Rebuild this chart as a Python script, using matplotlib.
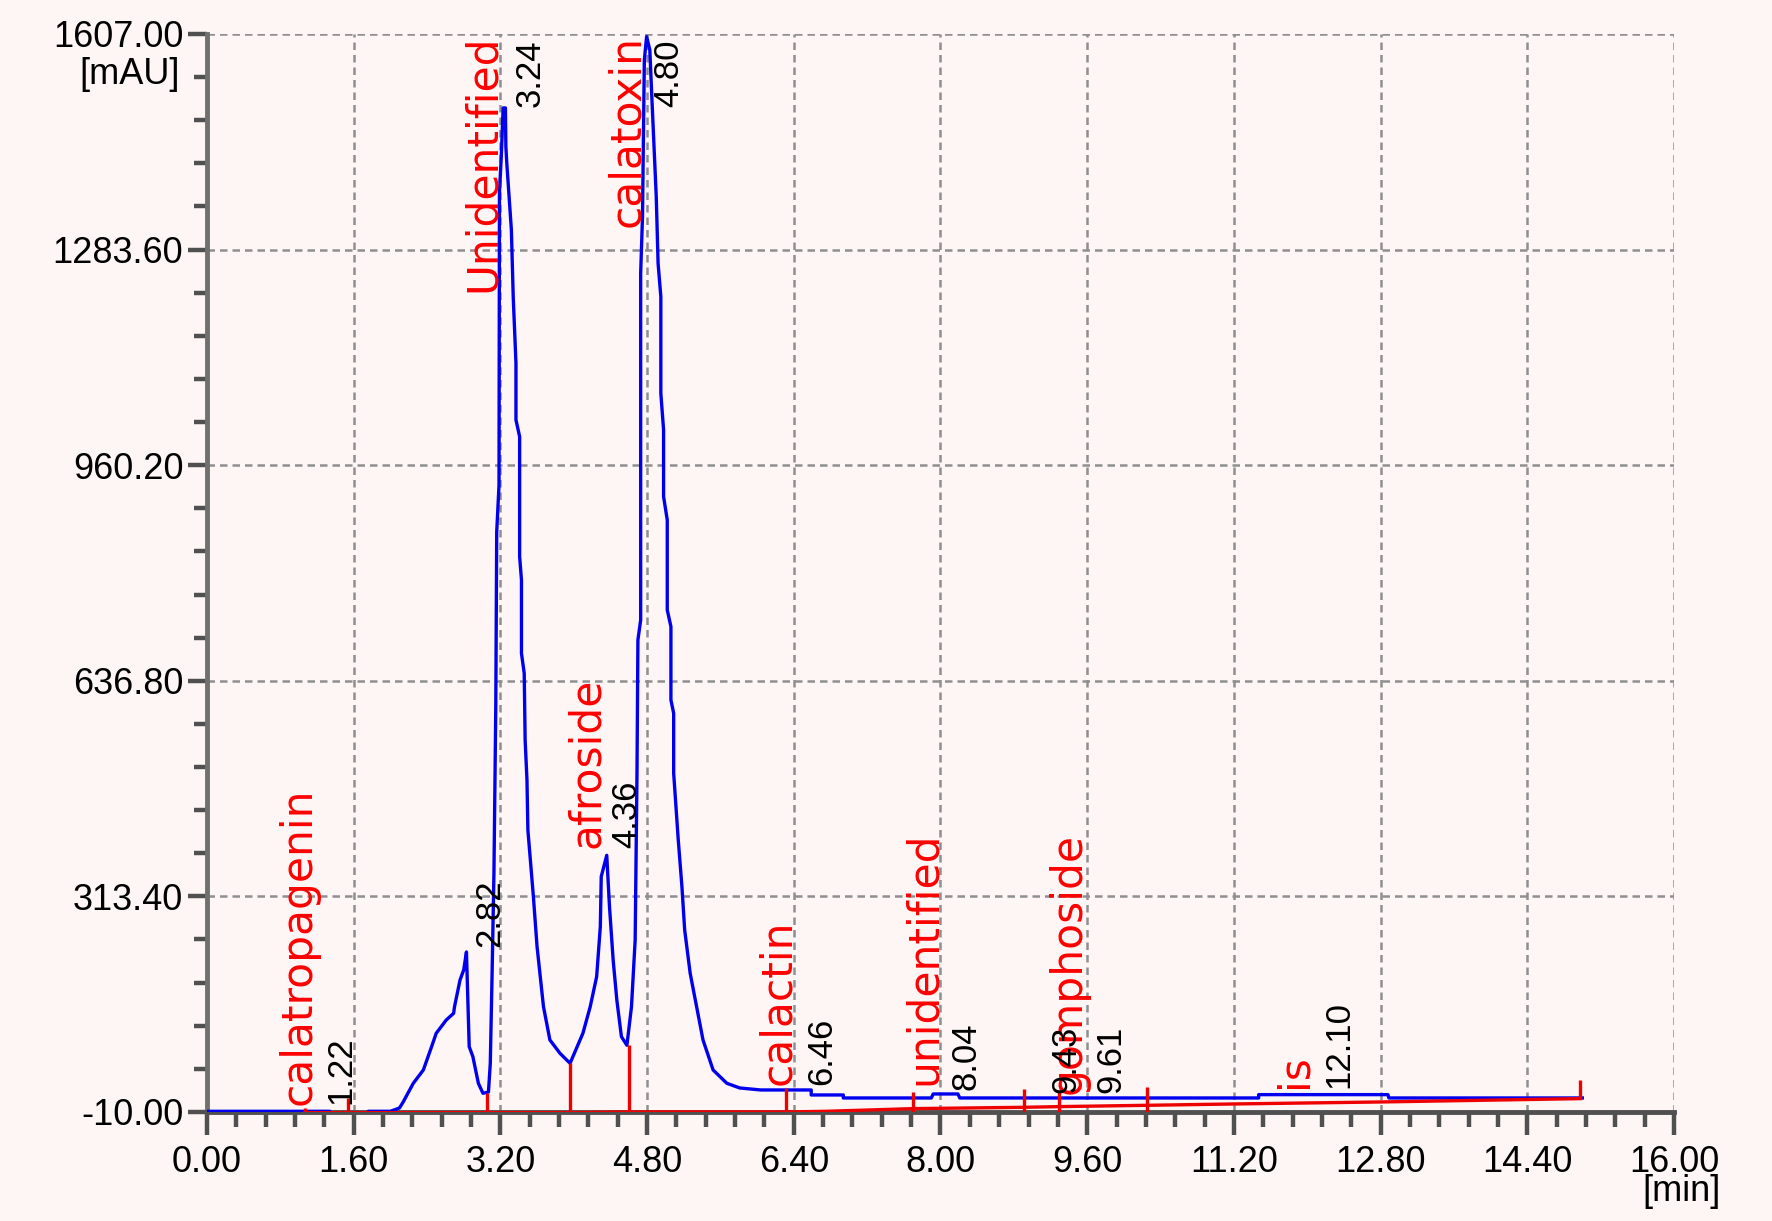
import matplotlib
matplotlib.use('Agg')
import matplotlib.pyplot as plt
from matplotlib import font_manager
from matplotlib.ticker import AutoMinorLocator, FixedLocator

# chromatogram trace (time in min, signal in mAU)
tiempo = [0.00, 1.34, 1.36, 1.74, 1.76, 2.00, 2.10, 2.14, 2.25, 2.36, 2.45, 2.50, 2.61, 2.69, 2.70,
          2.76, 2.80, 2.83, 2.86, 2.90, 2.96, 3.01, 3.07, 3.09, 3.11, 3.13, 3.15, 3.16, 3.185, 3.19,
          3.21, 3.23, 3.255, 3.26, 3.27, 3.32, 3.34, 3.37, 3.37, 3.41, 3.41, 3.43, 3.43, 3.46, 3.47,
          3.49, 3.50, 3.56, 3.60, 3.67, 3.74, 3.85, 3.96, 4.10, 4.18, 4.25, 4.29, 4.30, 4.36, 4.39,
          4.43, 4.47, 4.52, 4.58, 4.63, 4.67, 4.69, 4.70, 4.73, 4.73, 4.75, 4.77, 4.795, 4.83, 4.85,
          4.90, 4.92, 4.95, 4.95, 4.98, 4.98, 5.02, 5.02, 5.06, 5.06, 5.09, 5.09, 5.14, 5.18, 5.21,
          5.27, 5.34, 5.41, 5.52, 5.67, 5.81, 6.04, 6.59, 6.59, 6.94, 6.94, 7.90, 7.92, 8.19, 8.21,
          11.47, 11.47, 12.88, 12.89, 15.00]
senal = [-9, -9, -13, -13, -9, -9, -4, 5, 33, 53, 88, 108, 128, 138, 148,
         188, 203, 230, 88, 73, 33, 18, 20, 63, 200, 350, 600, 860, 930, 1370,
         1423, 1496, 1496, 1438, 1413, 1313, 1213, 1113, 1028, 1003, 823, 788, 678, 648, 548,
         488, 413, 313, 238, 148, 98, 78, 63, 108, 148, 193, 268, 343, 375, 298,
         218, 158, 103, 90, 148, 248, 498, 698, 728, 1248, 1333, 1568, 1603, 1583, 1518,
         1363, 1263, 1213, 1068, 1013, 913, 878, 743, 718, 608, 588, 498, 398, 328, 263,
         198, 148, 98, 53, 33, 26, 23, 23, 15.5, 15.5, 11, 11, 17, 17, 11,
         11, 16, 16, 11, 11]

# integration baseline
base_t = [1.07, 1.54, 3.05, 3.96, 4.60, 6.31, 6.75, 7.70, 8.91, 9.29, 10.25, 11.20, 12.80, 14.98]
base_y = [-11, -11, -11, -11, -10, -10, -9, -5, -3, -2, 0, 2, 5, 10]

# peak boundary marks (time, bottom, top)
marca_t = [1.07, 1.54, 3.05, 3.96, 4.60, 6.31, 7.70, 8.91, 9.29, 10.25, 14.98]
marca_lo = [-14, -14, -11, -11, -10, -15, -15, -15, -15, -15, 10]
marca_hi = [-4, 11, 18, 63, 90, 26, 20, 25, 20, 28, 38]

# compound names (red) and retention times (black)
nombres = ['calatropagenin', 'Unidentified', 'afroside', 'calatoxin', 'calactin',
           'unidentified', 'gomphoside', 'is']
nombre_x = [1.00, 3.01, 4.14, 4.58, 6.23, 7.82, 9.40, 11.86]
nombre_y = [0, 1220, 386, 1318, 30, 30, 17, 26]

tiempos_ret = ['1.22', '2.82', '3.24', '4.36', '4.80', '6.46', '8.04', '9.43', '9.61', '12.10']
ret_x = [1.46, 3.08, 3.52, 4.58, 5.04, 6.70, 8.28, 9.37, 9.86, 12.35]
ret_y = [2, 238, 1498, 386, 1497, 30, 23, 18, 18, 26]

x_ticks = [0.00, 1.60, 3.20, 4.80, 6.40, 8.00, 9.60, 11.20, 12.80, 14.40, 16.00]
y_ticks = [-10.00, 313.40, 636.80, 960.20, 1283.60, 1607.00]

fondo = '#fdf6f4'
azul = '#0000ee'
rojo = '#ee0000'
gris = '#505050'

fuentes = {f.name for f in font_manager.fontManager.ttflist}
if 'Liberation Sans Narrow' in fuentes:
    fuente_ejes, tam_ejes = 'Liberation Sans Narrow', 30
else:
    fuente_ejes, tam_ejes = 'Liberation Sans', 26

fig = plt.figure(figsize=(17.72, 12.21), dpi=100, facecolor=fondo)
ax = fig.add_axes([0.1168, 0.0893, 0.8279, 0.8829], facecolor=fondo)

ax.plot(tiempo, senal, color=azul, lw=2.4, zorder=3)
ax.plot(base_t, base_y, color=rojo, lw=2.4, zorder=4)
ax.vlines(marca_t, marca_lo, marca_hi, color=rojo, lw=2.4, zorder=4)

for txt, x, y in zip(nombres, nombre_x, nombre_y):
    ax.text(x, y, txt, rotation=90, ha='center', va='bottom', color='red',
            fontsize=30.5, family='DejaVu Sans', zorder=5)
for txt, x, y in zip(tiempos_ret, ret_x, ret_y):
    ax.text(x, y, txt, rotation=90, ha='center', va='bottom', color='black',
            fontsize=25, family='Liberation Sans', zorder=5)

ax.set_xlim(0, 16)
ax.set_ylim(-10, 1607)
ax.xaxis.set_major_locator(FixedLocator(x_ticks))
ax.yaxis.set_major_locator(FixedLocator(y_ticks))
ax.xaxis.set_minor_locator(AutoMinorLocator(5))
ax.yaxis.set_minor_locator(AutoMinorLocator(5))
ax.set_xticklabels(['%.2f' % v for v in x_ticks], family=fuente_ejes, fontsize=tam_ejes)
ax.set_yticklabels(['%.2f' % v for v in y_ticks], family=fuente_ejes, fontsize=tam_ejes)

ax.tick_params(axis='y', which='major', length=14, width=3.2, color=gris, pad=3, direction='out')
ax.tick_params(axis='y', which='minor', length=9.5, width=3.2, color=gris, direction='out')
ax.tick_params(axis='x', which='major', length=16.5, width=3.2, color=gris, pad=7, direction='out')
ax.tick_params(axis='x', which='minor', length=11, width=3.2, color=gris, direction='out')

ax.grid(True, which='major', color='#8f8f8f', lw=1.8, linestyle=(0, (3, 2)))
ax.set_axisbelow(True)
for lado in ['top', 'right']:
    ax.spines[lado].set_visible(False)
ax.spines['left'].set_color('#707070')
ax.spines['left'].set_linewidth(3.5)
ax.spines['bottom'].set_color(gris)
ax.spines['bottom'].set_linewidth(3.5)

fig.text(0.073, 0.939, '[mAU]', family=fuente_ejes, fontsize=tam_ejes, ha='center', va='center')
fig.text(0.949, 0.024, '[min]', family=fuente_ejes, fontsize=tam_ejes, ha='center', va='center')

fig.savefig('out.png', dpi=100, facecolor=fondo)
